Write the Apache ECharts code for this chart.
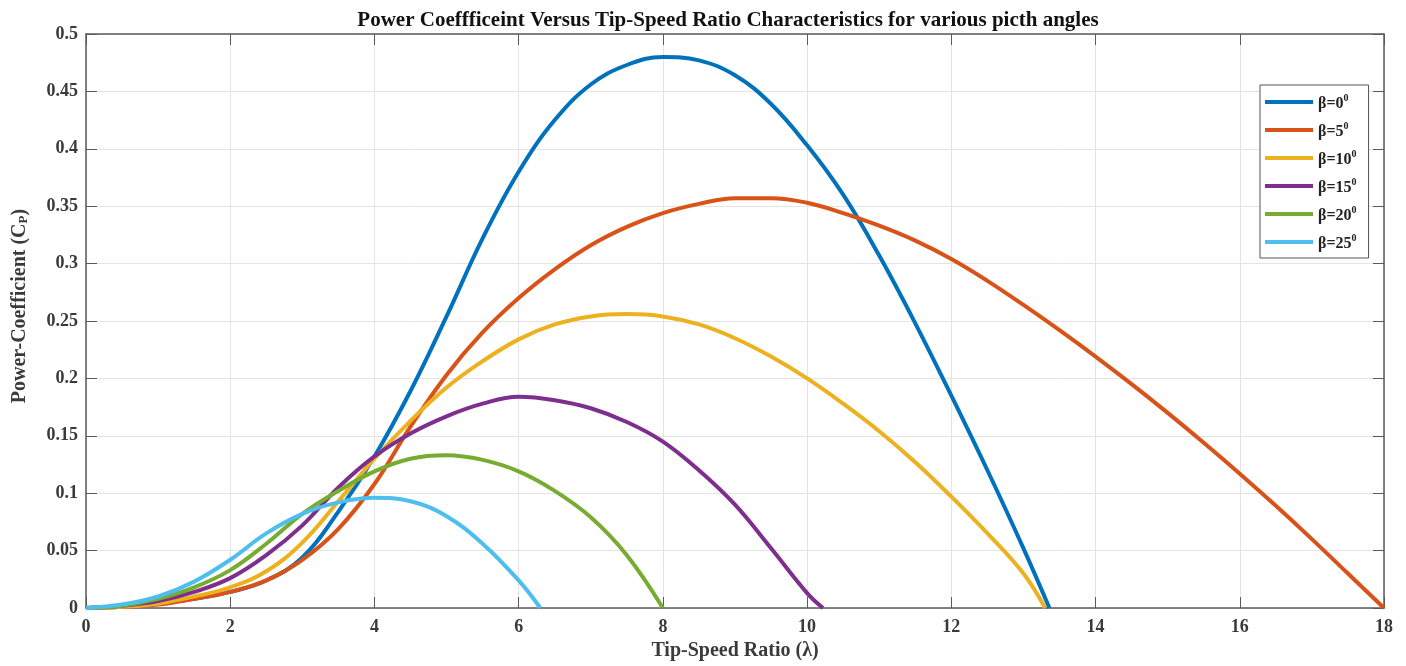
<!DOCTYPE html>
<html>
<head>
<meta charset="utf-8">
<script src="https://cdn.jsdelivr.net/npm/echarts@6/dist/echarts.min.js"></script>
<style>
html,body{margin:0;padding:0;background:#fff;}
#chart{width:1406px;height:666px;}
</style>
</head>
<body>
<div id="chart"></div>
<script>
// Data
const seriesNames = ['β=0', 'β=5', 'β=10', 'β=15', 'β=20', 'β=25'];

const lam0 = [0, 0.5, 1, 1.5, 2, 2.5, 3, 3.5, 4, 4.5, 5, 5.5, 6, 6.5, 7, 7.5, 8, 8.5, 9, 9.5, 10, 10.5, 11, 11.5, 12, 12.5, 13, 13.36];
const cp0  = [0, 0.001, 0.004, 0.008, 0.014, 0.024, 0.044, 0.084, 0.132, 0.189, 0.254, 0.322, 0.38, 0.425, 0.456, 0.473, 0.48, 0.477, 0.464, 0.439, 0.403, 0.36, 0.307, 0.248, 0.185, 0.12, 0.052, 0];

const lam5 = [0, 0.5, 1, 1.5, 2, 2.5, 3, 3.5, 4, 4.5, 5, 5.5, 6, 6.5, 7, 7.5, 8, 8.5, 9, 9.5, 10, 10.5, 11, 11.5, 12, 12.5, 13, 13.5, 14, 14.5, 15, 15.5, 16, 16.5, 17, 17.5, 18];
const cp5  = [0, 0.001, 0.003, 0.008, 0.014, 0.024, 0.042, 0.069, 0.108, 0.158, 0.203, 0.24, 0.27, 0.295, 0.316, 0.332, 0.344, 0.352, 0.357, 0.357, 0.353, 0.344, 0.333, 0.32, 0.304, 0.285, 0.264, 0.242, 0.219, 0.195, 0.17, 0.144, 0.117, 0.089, 0.06, 0.03, 0];

const lam10 = [0, 0.5, 1, 1.5, 2, 2.5, 3, 3.5, 4, 4.5, 5, 5.5, 6, 6.5, 7, 7.5, 8, 8.5, 9, 9.5, 10, 10.5, 11, 11.5, 12, 12.5, 13, 13.3];
const cp10  = [0, 0.001, 0.004, 0.01, 0.018, 0.032, 0.057, 0.093, 0.13, 0.163, 0.192, 0.215, 0.234, 0.247, 0.254, 0.256, 0.254, 0.247, 0.235, 0.219, 0.2, 0.178, 0.154, 0.127, 0.097, 0.065, 0.03, 0];

const lam15 = [0, 0.5, 1, 1.5, 2, 2.5, 3, 3.5, 4, 4.5, 5, 5.5, 6, 6.5, 7, 7.5, 8, 8.5, 9, 9.5, 10, 10.22];
const cp15  = [0, 0.002, 0.006, 0.014, 0.026, 0.046, 0.072, 0.105, 0.132, 0.152, 0.167, 0.178, 0.184, 0.181, 0.174, 0.162, 0.145, 0.12, 0.09, 0.052, 0.013, 0];

const lam20 = [0, 0.5, 1, 1.5, 2, 2.5, 3, 3.5, 4, 4.5, 5, 5.5, 6, 6.5, 7, 7.5, 8];
const cp20  = [0, 0.002, 0.008, 0.018, 0.033, 0.056, 0.082, 0.102, 0.119, 0.13, 0.133, 0.129, 0.119, 0.102, 0.079, 0.046, 0];

const lam25 = [0, 0.5, 1, 1.5, 2, 2.5, 3, 3.5, 4, 4.5, 5, 5.5, 6, 6.3];
const cp25  = [0, 0.003, 0.01, 0.023, 0.042, 0.065, 0.082, 0.092, 0.096, 0.093, 0.08, 0.056, 0.024, 0];

const xTicks = [0, 2, 4, 6, 8, 10, 12, 14, 16, 18];
const yTicks = [0, 0.05, 0.1, 0.15, 0.2, 0.25, 0.3, 0.35, 0.4, 0.45, 0.5];

const colors = ['#0072BD', '#D95319', '#EDB120', '#7E2F8E', '#77AC30', '#4DBEEE'];

const lamList = [lam0, lam5, lam10, lam15, lam20, lam25];
const cpList = [cp0, cp5, cp10, cp15, cp20, cp25];

const FONT = '"Liberation Serif", "Times New Roman", serif';
const AXC = '#5a5a5a';
const TXT = '#3a3a3a';

const chart = echarts.init(document.getElementById('chart'));

const series = seriesNames.map((n, i) => ({
  name: n,
  type: 'line',
  data: lamList[i].map((x, k) => [x, cpList[i][k]]),
  smooth: 0.4,
  showSymbol: false,
  symbol: 'none',
  lineStyle: { width: 4, color: colors[i] },
  itemStyle: { color: colors[i] },
  z: 2 + i,
  xAxisIndex: 0,
  yAxisIndex: 0
}));

const gridLine = { show: true, lineStyle: { color: '#e4e4e4', width: 1 } };

chart.setOption({
  animation: false,
  backgroundColor: '#ffffff',
  title: {
    text: 'Power Coeffficeint Versus Tip-Speed Ratio Characteristics for various picth angles',
    left: 723, top: 5, textAlign: 'center',
    textStyle: { fontFamily: FONT, fontWeight: 'bold', fontSize: 21, color: '#111' }
  },
  grid: { left: 86, right: 22, top: 34, bottom: 57, containLabel: false },
  legend: {
    orient: 'vertical',
    left: 1260, top: 85,
    padding: [7, 12, 6, 5],
    backgroundColor: '#fff',
    borderColor: '#555',
    borderWidth: 1,
    itemWidth: 48,
    itemHeight: 4,
    itemGap: 8,
    icon: 'rect',
    data: seriesNames,
    formatter: n => '{a|' + n + '}{s|0}',
    textStyle: {
      fontFamily: FONT, fontWeight: 'bold', fontSize: 16, color: '#222',
      rich: {
        a: { fontFamily: FONT, fontWeight: 'bold', fontSize: 16, color: '#222', lineHeight: 17, padding: [4, 0, 0, 0] },
        s: { fontFamily: FONT, fontWeight: 'bold', fontSize: 10, color: '#222', verticalAlign: 'top', padding: [0, 0, 8, 0] }
      }
    }
  },
  xAxis: [{
    type: 'value', min: 0, max: 18, interval: 2,
    name: 'Tip-Speed Ratio (λ)', nameLocation: 'middle', nameGap: 33,
    nameTextStyle: { fontFamily: FONT, fontWeight: 'bold', fontSize: 20, color: TXT },
    axisLine: { show: true, onZero: false, lineStyle: { color: AXC, width: 1.5 } },
    axisTick: { show: true, inside: true, length: 11, lineStyle: { color: AXC } },
    axisLabel: { fontFamily: FONT, fontWeight: 'bold', fontSize: 18, color: TXT, margin: 10 },
    splitLine: gridLine
  }, {
    type: 'value', min: 0, max: 18, interval: 2, position: 'top',
    axisLine: { show: true, onZero: false, lineStyle: { color: AXC, width: 1.5 } },
    axisTick: { show: true, inside: true, length: 11, lineStyle: { color: AXC } },
    axisLabel: { show: false }, splitLine: { show: false }
  }],
  yAxis: [{
    type: 'value', min: 0, max: 0.5, interval: 0.05,
    name: '{a|Power-Coefficient (C}{b|P}{a|)}', nameLocation: 'middle', nameGap: 56, nameRotate: 90,
    nameTextStyle: {
      fontFamily: FONT, fontWeight: 'bold', fontSize: 20, color: TXT,
      padding: [0, 0, 0, 30],
      rich: {
        a: { fontFamily: FONT, fontWeight: 'bold', fontSize: 20, color: TXT },
        b: { fontFamily: FONT, fontWeight: 'bold', fontSize: 13, color: TXT, verticalAlign: 'bottom', padding: [8, 0, 0, 0] }
      }
    },
    axisLine: { show: true, onZero: false, lineStyle: { color: AXC, width: 1.5 } },
    axisTick: { show: true, inside: true, length: 11, lineStyle: { color: AXC } },
    axisLabel: { fontFamily: FONT, fontWeight: 'bold', fontSize: 18, color: TXT, margin: 8,
      formatter: v => String(+v.toFixed(2)) },
    splitLine: gridLine
  }, {
    type: 'value', min: 0, max: 0.5, interval: 0.05, position: 'right',
    axisLine: { show: true, onZero: false, lineStyle: { color: AXC, width: 1.5 } },
    axisTick: { show: true, inside: true, length: 11, lineStyle: { color: AXC } },
    axisLabel: { show: false }, splitLine: { show: false }
  }],
  series: series
});
</script>
</body>
</html>
